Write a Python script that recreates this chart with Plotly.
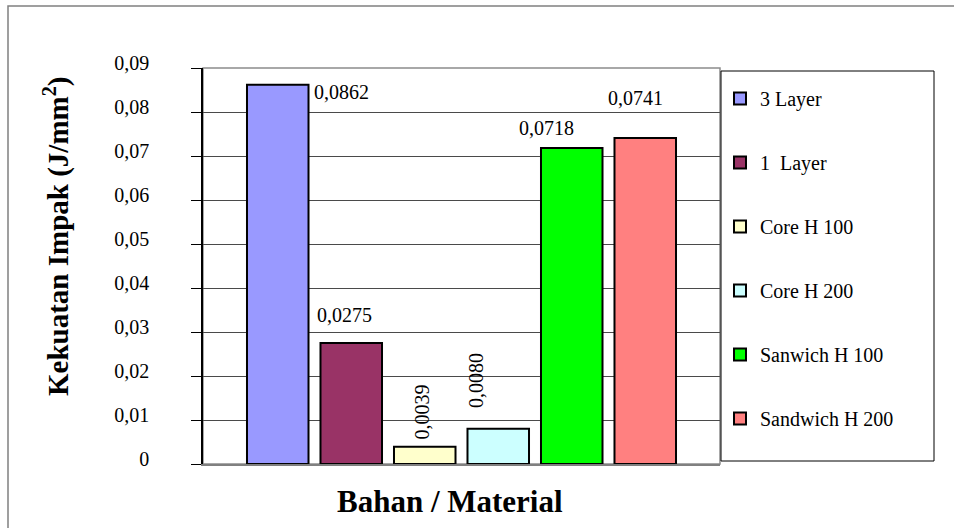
import plotly.graph_objects as go

# Impact strength per material (J/mm^2)
materials = ["3 Layer", "1  Layer", "Core H 100", "Core H 200", "Sanwich H 100", "Sandwich H 200"]
strength = [0.0862, 0.0275, 0.0039, 0.0080, 0.0718, 0.0741]
bar_colors = ["#9999FF", "#993366", "#FFFFCC", "#CCFFFF", "#00FF00", "#FF8080"]
y_ticks = [0, 0.01, 0.02, 0.03, 0.04, 0.05, 0.06, 0.07, 0.08, 0.09]

# value-label placement: pixel offset (dx, dy) of each label centre from its bar top, and angle
label_offsets = [(64, -7), (-7, 28), (-3, 35), (-22, 48), (-25, 20), (-10, 40)]
label_angles = [0, 0, -90, -90, 0, 0]

FONT = "Liberation Serif"
W, H = 954, 528
L, R, T, B = 203, 234, 68, 64
BARGAP, GROUPGAP = 0.147, 0.163


def comma(v, nd):
    return f"{v:.{nd}f}".replace(".", ",")


def paper_x(px):
    return (px - L) / (W - L - R)


def paper_y(py):
    return (H - B - py) / (H - T - B)


fig = go.Figure()
for i, (name, val, col) in enumerate(zip(materials, strength, bar_colors)):
    fig.add_trace(go.Bar(
        x=["Bahan"], y=[val], name=name, legendgroup=f"g{i}",
        marker=dict(color=col, line=dict(color="black", width=2)),
        hoverinfo="name+y",
    ))

# value labels above / beside the bars
n = len(strength)
slot = (1 - BARGAP) / n
annotations = []
for i, val in enumerate(strength):
    cx = -(1 - BARGAP) / 2 + (i + 0.5) * slot
    dx, dy = label_offsets[i]
    annotations.append(dict(
        x=cx, y=val, xref="x", yref="y", text=comma(val, 4), showarrow=False,
        xshift=dx, yshift=dy, textangle=label_angles[i],
        xanchor="center", yanchor="middle",
        font=dict(family=FONT, size=20, color="black"),
    ))

# axis titles
annotations.append(dict(
    x=paper_x(57), y=paper_y(236), xref="paper", yref="paper",
    text="<b>Kekuatan Impak (J/mm<sup>2</sup>)</b>", textangle=-90, showarrow=False,
    xanchor="center", yanchor="middle",
    font=dict(family=FONT, size=29, color="black"),
))
annotations.append(dict(
    x=paper_x(450), y=paper_y(501), xref="paper", yref="paper",
    text="<b>Bahan / Material</b>", showarrow=False,
    xanchor="center", yanchor="middle",
    font=dict(family=FONT, size=31, color="black"),
))

shapes = [
    # chart frame
    dict(type="rect", xref="paper", yref="paper",
         x0=paper_x(8), x1=paper_x(970), y0=paper_y(540), y1=paper_y(6),
         line=dict(color="#808080", width=1.5), layer="below"),
    # plot-area frame
    dict(type="rect", xref="paper", yref="paper", x0=0, x1=1, y0=0, y1=1,
         line=dict(color="#8c8c8c", width=1.5), layer="below"),
    # legend frame
    dict(type="rect", xref="paper", yref="paper",
         x0=paper_x(721), x1=paper_x(934), y0=paper_y(461), y1=paper_y(71),
         line=dict(color="black", width=1)),
]

fig.update_layout(
    width=W, height=H,
    margin=dict(l=L, r=R, t=T, b=B),
    paper_bgcolor="white", plot_bgcolor="white",
    barmode="group", bargap=BARGAP, bargroupgap=GROUPGAP,
    font=dict(family=FONT, size=20, color="black"),
    showlegend=True,
    legend=dict(
        x=1.0, y=paper_y(79), xanchor="left", yanchor="top",
        traceorder="grouped", tracegroupgap=35,
        bgcolor="rgba(0,0,0,0)", borderwidth=0,
        font=dict(family=FONT, size=20, color="black"),
    ),
    annotations=annotations,
    shapes=shapes,
)

fig.update_xaxes(
    type="category", range=[-0.5, 0.5], showticklabels=False, ticks="",
    showgrid=False, showline=True, linecolor="#808080", linewidth=2,
    zeroline=False, fixedrange=True,
)
fig.update_yaxes(
    range=[0, 0.09], tickmode="array", tickvals=y_ticks,
    ticktext=["0" if v == 0 else comma(v, 2) for v in y_ticks],
    ticks="outside", ticklen=10, tickcolor="black", tickwidth=1,
    ticklabelstandoff=38, ticklabelshift=-5,
    showgrid=True, gridcolor="#4a4a4a", gridwidth=1,
    showline=True, linecolor="black", linewidth=1.5,
    zeroline=False, fixedrange=True,
    tickfont=dict(family=FONT, size=20, color="black"),
)

fig.write_html("out.html")
